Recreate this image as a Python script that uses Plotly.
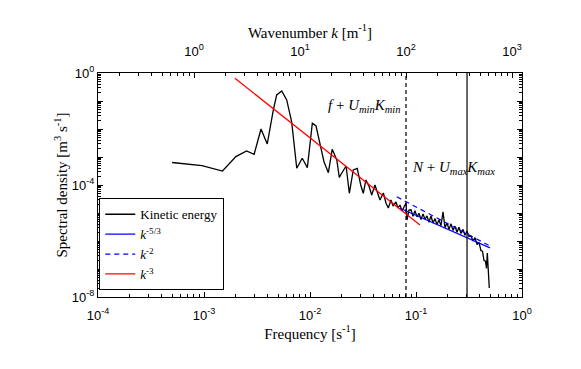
import math
import plotly.graph_objects as go

# ---------------- data ----------------
freq = [5.0e-4, 9.57e-4, 1.494e-3, 2.00e-3, 2.52e-3, 2.97e-3, 3.45e-3, 3.95e-3, 4.51e-3, 4.85e-3,
        5.41e-3, 6.03e-3, 6.71e-3, 7.50e-3, 8.45e-3, 9.44e-3, 1.052e-2, 1.14e-2, 1.24e-2, 1.355e-2,
        1.49e-2, 1.62e-2, 1.79e-2, 1.89e-2, 1.99e-2, 2.19e-2, 2.35e-2, 2.56e-2, 2.79e-2, 3.01e-2,
        3.18e-2, 3.37e-2, 3.62e-2, 3.82e-2, 4.10e-2, 4.32e-2, 4.57e-2, 4.92e-2, 5.21e-2, 5.48e-2,
        5.81e-2, 6.07e-2, 6.47e-2, 6.76e-2, 7.06e-2, 7.38e-2, 7.71e-2, 8.05e-2, 8.22e-2, 8.59e-2,
        0.0897, 0.0937, 0.0979, 0.1022, 0.1067, 0.1115, 0.1164, 0.1216, 0.1270, 0.1326,
        0.1385, 0.1447, 0.1511, 0.1578, 0.1648, 0.1721, 0.1798, 0.1877, 0.1961, 0.2048,
        0.2139, 0.2234, 0.2332, 0.2436, 0.2544, 0.2657, 0.2775, 0.2899, 0.3028, 0.3162,
        0.3304, 0.3449, 0.3602, 0.3762, 0.3928, 0.4104, 0.4240, 0.4380, 0.4524, 0.4625,
        0.4707, 0.4777, 0.4914]
psd = [6.37e-4, 4.89e-4, 3.16e-4, 1.03e-3, 1.64e-3, 1.25e-3, 1.0e-2, 2.91e-3, 4.77e-2, 0.164,
       0.228, 0.109, 1.82e-2, 3.95e-4, 8.99e-4, 4.15e-4, 1.60e-2, 1.28e-2, 3.08e-3, 6.79e-4,
       2.75e-4, 1.88e-3, 7.82e-4, 1.88e-4, 2.62e-4, 4.77e-4, 5.06e-5, 3.43e-4, 3.95e-4, 1.0e-4,
       5.06e-5, 1.51e-4, 8.7e-5, 4.4e-5, 1.0e-4, 5.77e-5, 2.91e-5, 5.18e-5, 2.28e-5, 1.51e-5,
       2.91e-5, 1.78e-5, 2.47e-5, 1.51e-5, 1.93e-5, 1.18e-5, 1.64e-5, 2.28e-5, 5.62e-6, 1.28e-5,
       1.30e-5, 7.60e-6, 1.20e-5, 7.30e-6, 9.80e-6, 5.80e-6, 9.30e-6, 6.00e-6, 7.90e-6, 4.70e-6,
       7.80e-6, 4.40e-6, 6.30e-6, 3.80e-6, 5.70e-6, 3.50e-6, 1.10e-5, 3.00e-6, 4.40e-6, 2.60e-6,
       4.10e-6, 2.40e-6, 3.40e-6, 2.05e-6, 3.10e-6, 1.85e-6, 2.60e-6, 1.60e-6, 2.25e-6, 1.45e-6,
       1.51e-6, 1.00e-6, 1.32e-6, 7.40e-7, 8.90e-7, 4.50e-7, 4.30e-7, 2.00e-7, 1.90e-7, 1.05e-7,
       3.73e-7, 7.82e-8, 2.10e-8]

k53_freq = [0.0706, 0.499]
k53_psd = [1.48e-5, 5.69e-7]
k2_freq = [0.0658, 0.499]
k2_psd = [3.80e-5, 6.61e-7]
k3_freq = [1.96e-3, 0.109]
k3_psd = [0.646, 3.7e-6]

f_low_limit = 0.0805   # f + U_min K_min
f_high_limit = 0.303   # N + U_max K_max
k_per_freq = 1242.0    # wavenumber per unit frequency (top axis)

x_range = [1e-4, 1e0]
y_range = [1e-8, 1e0]

x_ticks = [1e-4, 1e-3, 1e-2, 1e-1, 1e0]
x_ticktext = ["10<sup>-4</sup>", "10<sup>-3</sup>", "10<sup>-2</sup>", "10<sup>-1</sup>", "10<sup>0</sup>"]
y_ticks = [1e0, 1e-1, 1e-2, 1e-3, 1e-4, 1e-5, 1e-6, 1e-7, 1e-8]
y_ticktext = ["10<sup>0</sup>", "", "", "", "10<sup>-4</sup>", "", "", "", "10<sup>-8</sup>"]
k_ticks = [1e0, 1e1, 1e2, 1e3]
k_ticktext = ["10<sup>0</sup>", "10<sup>1</sup>", "10<sup>2</sup>", "10<sup>3</sup>"]

# ---------------- figure ----------------
serif = "Liberation Serif, DejaVu Serif, serif"
sans = "Liberation Sans, Arial, sans-serif"

x_minor = [m * 10.0 ** n for n in range(-4, 0) for m in range(2, 10)]
y_minor = [m * 10.0 ** n for n in range(-8, 0) for m in range(2, 10)]
k_minor = [m * 10.0 ** n for n in range(-1, 3) for m in range(2, 10)]

fig = go.Figure()
fig.add_trace(go.Scatter(x=freq, y=psd, mode="lines", name="Kinetic energy",
                         line=dict(color="black", width=1.3)))
fig.add_trace(go.Scatter(x=k53_freq, y=k53_psd, mode="lines", name="<i>k</i><sup>-5/3</sup>",
                         line=dict(color="#0000ff", width=1.2)))
fig.add_trace(go.Scatter(x=k2_freq, y=k2_psd, mode="lines", name="<i>k</i><sup>-2</sup>",
                         line=dict(color="#0000ff", width=1.2, dash="5px,4px")))
fig.add_trace(go.Scatter(x=k3_freq, y=k3_psd, mode="lines", name="<i>k</i><sup>-3</sup>",
                         line=dict(color="#ff0000", width=1.3)))
# invisible trace carrying the wavenumber axis
fig.add_trace(go.Scatter(x=[x * k_per_freq for x in x_range], y=y_range, xaxis="x2",
                         mode="markers", marker=dict(opacity=0), showlegend=False,
                         hoverinfo="skip"))

fig.add_shape(type="line", xref="x", yref="paper", x0=f_low_limit, x1=f_low_limit, y0=0, y1=1,
              line=dict(color="black", width=1.2, dash="4px,3px"))
fig.add_shape(type="line", xref="x", yref="paper", x0=f_high_limit, x1=f_high_limit, y0=0, y1=1,
              line=dict(color="black", width=1.2))

fig.add_annotation(x=math.log10(f_low_limit), y=0.9, xref="x", yref="paper",
                   text="<i>f</i> + <i>U<sub>min</sub>K<sub>min</sub></i>",
                   showarrow=False, xanchor="right", xshift=-3,
                   font=dict(family=serif, size=15, color="black"))
fig.add_annotation(x=math.log10(f_low_limit), y=0.575, xref="x", yref="paper",
                   text="<i>N</i> + <i>U<sub>max</sub>K<sub>max</sub></i>",
                   showarrow=False, xanchor="left", xshift=4,
                   font=dict(family=serif, size=15, color="black"))

axis_common = dict(type="log", showgrid=False, zeroline=False, showline=True, linecolor="black",
                   linewidth=1, ticks="inside", ticklen=5, tickcolor="black", tickwidth=1,
                   automargin=False,
                   tickfont=dict(family=sans, size=13, color="black"))

fig.update_layout(
    width=581, height=369,
    # the page body adds an 8px offset, so the margins compensate for it
    margin=dict(l=90, r=67, t=65, b=80),
    paper_bgcolor="white", plot_bgcolor="white",
    xaxis=dict(**axis_common, range=[math.log10(x_range[0]), math.log10(x_range[1])],
               tickmode="array", tickvals=x_ticks, ticktext=x_ticktext, ticklabelstandoff=6,
               minor=dict(tickmode="array", tickvals=x_minor, ticks="inside", ticklen=3,
                          tickcolor="black", showgrid=False),
               title=dict(text="Frequency [s<sup>-1</sup>]", font=dict(family=serif, size=15, color="black"),
                          standoff=6)),
    xaxis2=dict(**axis_common, overlaying="x", side="top", anchor="y",
                range=[math.log10(x_range[0] * k_per_freq), math.log10(x_range[1] * k_per_freq)],
                tickmode="array", tickvals=k_ticks, ticktext=k_ticktext, ticklabelstandoff=11,
                minor=dict(tickmode="array", tickvals=k_minor, ticks="inside", ticklen=3,
                           tickcolor="black", showgrid=False),
                title=dict(text="Wavenumber <i>k</i> [m<sup>-1</sup>]",
                           font=dict(family=serif, size=15, color="black"), standoff=0)),
    yaxis=dict(**axis_common, mirror="ticks", range=[math.log10(y_range[0]), math.log10(y_range[1])],
               tickmode="array", tickvals=y_ticks, ticktext=y_ticktext,
               minor=dict(tickmode="array", tickvals=y_minor, ticks="inside", ticklen=3,
                          tickcolor="black", showgrid=False),
               title=dict(text="Spectral density [m<sup>3</sup> s<sup>-1</sup>]",
                          font=dict(family=serif, size=15, color="black"), standoff=0)),
    legend=dict(x=0.003, y=0.03, xanchor="left", yanchor="bottom", bgcolor="white",
                bordercolor="black", borderwidth=1, font=dict(family=serif, size=13, color="black"),
                tracegroupgap=0, itemwidth=30),
    showlegend=True,
)

fig.write_html("out.html")
